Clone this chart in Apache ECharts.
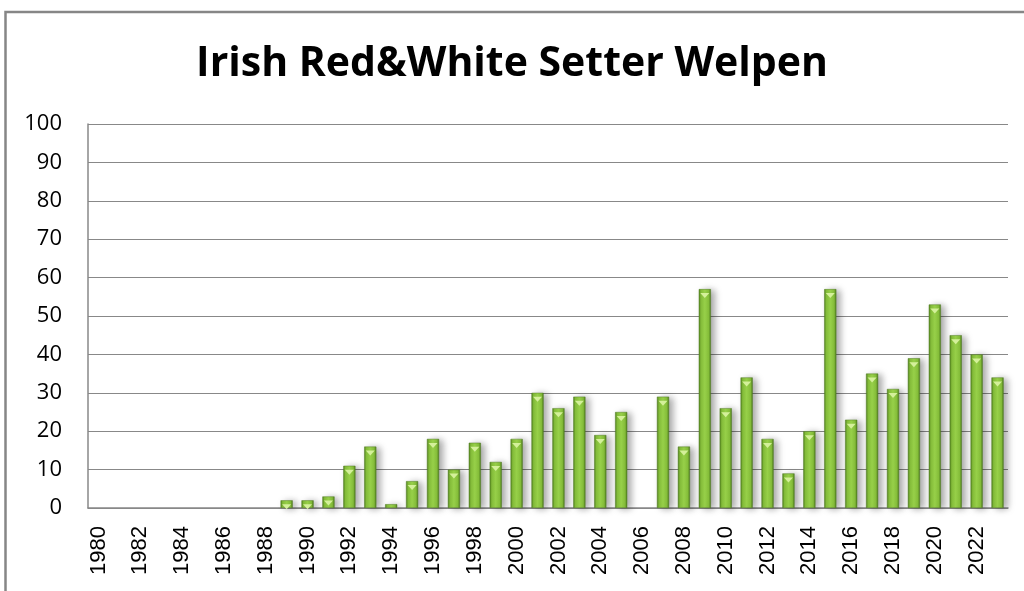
<!DOCTYPE html>
<html>
<head>
<meta charset="utf-8">
<style>
  html, body { margin: 0; padding: 0; background: #fff; }
  #chart { width: 1024px; height: 591px; }
</style>
<script src="https://cdn.jsdelivr.net/npm/echarts@6/dist/echarts.min.js"></script>
</head>
<body>
<div id="chart"></div>
<script>
// Jahre und Welpenzahlen
const years = [];
for (let y = 1980; y <= 2023; y++) years.push(String(y));

const puppies = [
  0, 0, 0, 0, 0, 0, 0, 0, 0, 2,   // 1980-1989
  2, 3, 11, 16, 1, 7, 18, 10, 17, 12, // 1990-1999
  18, 30, 26, 29, 19, 25, 0, 29, 16, 57, // 2000-2009
  26, 34, 18, 9, 20, 57, 23, 35, 31, 39, // 2010-2019
  53, 45, 40, 34                        // 2020-2023
];

const yTicks = [0, 10, 20, 30, 40, 50, 60, 70, 80, 90, 100];

// Nullwerte nicht zeichnen, sonst bleibt ein Strich auf der Achse
const bars = puppies.map(v => (v > 0 ? v : '-'));
// kleine Dreiecke oben auf den Balken (wie im Excel-Stil)
const tips = puppies.map(v => (v > 1 ? v : '-'));

const chart = echarts.init(document.getElementById('chart'));

const option = {
  animation: false,
  title: {
    text: 'Irish Red&White Setter Welpen',
    left: 'center',
    top: 39,
    textStyle: {
      fontFamily: 'Open Sans',
      fontWeight: 'bold',
      fontSize: 41,
      color: '#000'
    }
  },
  graphic: [{
    type: 'rect',
    shape: { x: 5.5, y: 12, width: 1100, height: 700 },
    style: { fill: 'none', stroke: '#868686', lineWidth: 2.5 },
    silent: true
  }],
  grid: { left: 88, right: 16, top: 124, bottom: 83 },
  xAxis: {
    type: 'category',
    data: years,
    axisLine: { lineStyle: { color: '#888', width: 1.5 } },
    axisTick: { show: false },
    axisLabel: {
      interval: 1,
      rotate: 90,
      margin: 18,
      fontFamily: 'Liberation Sans',
      fontSize: 22,
      color: '#000'
    }
  },
  yAxis: {
    type: 'value',
    min: yTicks[0],
    max: yTicks[yTicks.length - 1],
    interval: 10,
    axisLine: { show: true, lineStyle: { color: '#888', width: 1.5 } },
    axisTick: { show: false },
    splitLine: { lineStyle: { color: '#888', width: 1 } },
    axisLabel: {
      margin: 26,
      fontFamily: 'Open Sans',
      fontSize: 22,
      color: '#000'
    }
  },
  series: [
    {
      type: 'bar',
      data: bars,
      barWidth: '58%',
      itemStyle: {
        color: new echarts.graphic.LinearGradient(0, 0, 1, 0, [
          { offset: 0, color: '#4f7f1d' },
          { offset: 0.18, color: '#86bf3a' },
          { offset: 0.5, color: '#9ad44b' },
          { offset: 0.82, color: '#86bf3a' },
          { offset: 1, color: '#4a781b' }
        ]),
        borderColor: '#507c22',
        borderWidth: 0.5,
        shadowColor: 'rgba(0,0,0,0.35)',
        shadowBlur: 7,
        shadowOffsetX: 4,
        shadowOffsetY: 1
      }
    },
    {
      type: 'pictorialBar',
      data: tips,
      symbol: 'triangle',
      symbolRotate: 180,
      symbolSize: [9, 5],
      symbolPosition: 'end',
      symbolOffset: [0, 4],
      z: 3,
      silent: true,
      itemStyle: { color: '#d4f09a' }
    }
  ]
};

chart.setOption(option);
</script>
</body>
</html>
